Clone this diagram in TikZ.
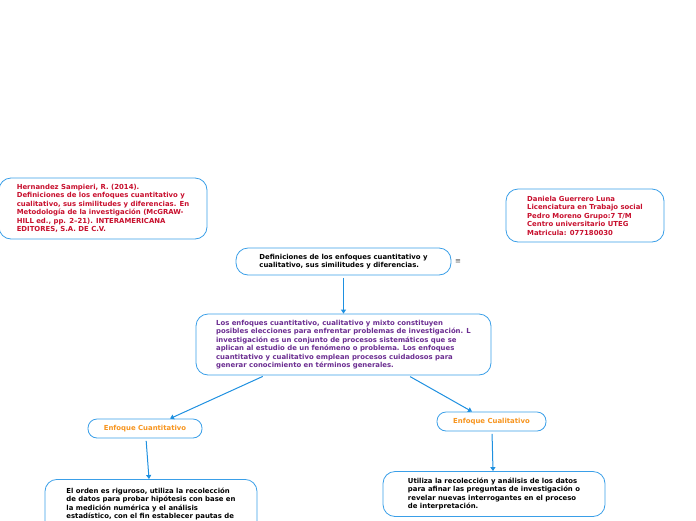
\documentclass[tikz,border=0pt]{standalone}
\usepackage{fontspec}
\setmainfont{DejaVu Sans}
\usepackage{xcolor}
\usetikzlibrary{arrows.meta}

\definecolor{linkblue}{HTML}{1E90E0}
\definecolor{boxblue}{HTML}{3A9FE8}
\definecolor{refred}{HTML}{C8102E}
\definecolor{mainpurple}{HTML}{6B2D91}
\definecolor{headorange}{HTML}{F7941D}

\begin{document}
\begin{tikzpicture}[
				x=1pt, y=-1pt,
				topic/.style={
					draw=boxblue,
					line width=0.8pt,
					fill=white,
					rounded corners=12pt,
					align=left,
					inner sep=0pt,
					font=\fontsize{6.9}{8.5}\selectfont\bfseries
				},
				link/.style={
					draw=linkblue,
					line width=1pt,
					shorten <=2.5pt,
					-{Triangle[width=5pt,length=4pt]}
				}
			]

				\useasboundingbox (0,0) rectangle (696,520);

				\node[topic, text=refred, minimum width=208pt, minimum height=61pt] (ref) at (103,208.5)
					{Hernandez Sampieri, R. (2014).\\
					Definiciones de los enfoques cuantitativo y\\
					cualitativo, sus similitudes y diferencias. En\\
					Metodología de la investigación (McGRAW-\\
					HILL ed., pp. 2--21). INTERAMERICANA\\
					EDITORES, S.A. DE C.V.};

				\node[topic, text=refred, minimum width=158pt, minimum height=53pt] (author) at (585,215.5)
					{Daniela Guerrero Luna\\
					Licenciatura en Trabajo social\\
					Pedro Moreno Grupo:7 T/M\\
					Centro universitario UTEG\\
					Matricula: 077180030};

				\node[topic, text=black, minimum width=215pt, minimum height=27pt] (title) at (343.5,261.5)
					{Definiciones de los enfoques cuantitativo y\\
					cualitativo, sus similitudes y diferencias.};

				\node[text=black!70, font=\fontsize{7}{8}\selectfont] (menu) at (458,262) {≡};

				\node[topic, text=mainpurple, minimum width=295pt, minimum height=61pt] (main) at (343.5,344.5)
					{Los enfoques cuantitativo, cualitativo y mixto constituyen\\
					posibles elecciones para enfrentar problemas de investigación. L\\
					investigación es un conjunto de procesos sistemáticos que se\\
					aplican al estudio de un fenómeno o problema. Los enfoques\\
					cuantitativo y cualitativo emplean procesos cuidadosos para\\
					generar conocimiento en términos generales.};

				\node[topic, text=headorange, rounded corners=9pt, minimum width=114pt, minimum height=19pt] (quant) at (145,428.5)
					{Enfoque Cuantitativo};

				\node[topic, text=headorange, rounded corners=9pt, minimum width=109pt, minimum height=19pt] (qual) at (491.5,421.5)
					{Enfoque Cualitativo};

				\node[topic, text=black, anchor=north, text depth=20pt, minimum width=212pt] (quantdef) at (151,479)
					{\rule{0pt}{14pt}El orden es riguroso, utiliza la recolección\\
					de datos para probar hipótesis con base en\\
					la medición numérica y el análisis\\
					estadístico, con el fin establecer pautas de};

				\node[topic, text=black, minimum width=222pt, minimum height=45pt] (qualdef) at (494,494)
					{Utiliza la recolección y análisis de los datos\\
					para afinar las preguntas de investigación o\\
					revelar nuevas interrogantes en el proceso\\
					de interpretación.};

				\draw[link] (title.south) -- (main.north);
				\draw[link] ([xshift=-78.5pt]main.south) -- ([xshift=25pt]quant.north);
				\draw[link] ([xshift=64.5pt]main.south) -- ([xshift=-19.5pt]qual.north);
				\draw[link] ([xshift=1pt]quant.south) -- ([xshift=-2pt]quantdef.north);
				\draw[link] ([xshift=0.5pt]qual.south) -- ([xshift=-1pt]qualdef.north);

			\end{tikzpicture}
\end{document}
